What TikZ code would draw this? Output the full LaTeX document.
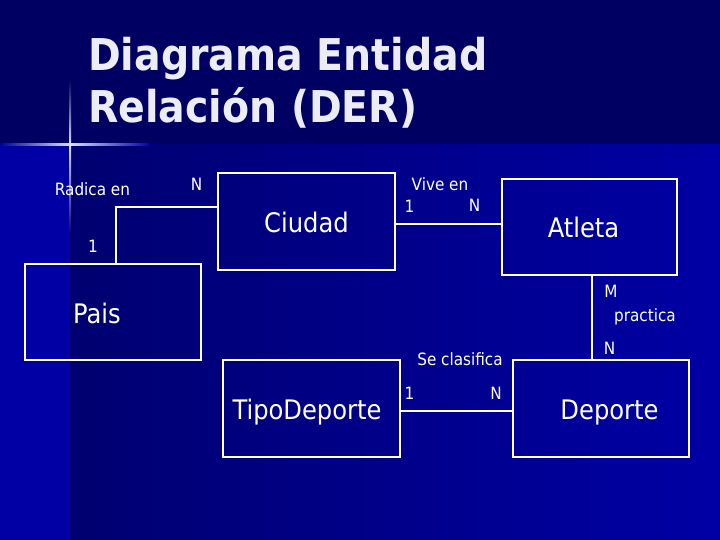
\documentclass[tikz,border=0pt]{standalone}
\usepackage{fontspec}
\setmainfont{DejaVu Sans Condensed}
\usetikzlibrary{positioning}

\definecolor{navy}{HTML}{000062}
\definecolor{deepblue}{HTML}{0000A4}
\definecolor{midblue}{HTML}{000070}
\definecolor{glow}{HTML}{D8E0FF}
\definecolor{titlegrey}{HTML}{ECECF4}

\begin{document}
\begin{tikzpicture}[
  x=1bp, y=-1bp,
  font=\fontsize{17}{20}\selectfont,
  entity/.style={draw=white, line width=1.3bp, minimum width=176bp, minimum height=96bp, inner sep=0pt},
  entname/.style={font=\fontsize{27}{31}\selectfont, text=white, text height=22bp, text depth=0bp, inner sep=0pt},
  card/.style={anchor=base, inner sep=0pt, text=white},
  rel/.style={draw=white, line width=1.1bp},
  heading/.style={anchor=base west, inner sep=0pt, text=titlegrey, font=\bfseries\fontsize{44}{52}\selectfont}
]
\useasboundingbox (0,0) rectangle (720,540);

% background
\fill[deepblue] (0,0) rectangle (720,540);
\fill[navy] (0,0) rectangle (720,145);
\shade[left color=midblue, right color=deepblue] (70,145) rectangle (720,540);
\shade[left color=deepblue!70!navy, right color=glow] (0,144) rectangle (70,146);
\shade[left color=glow, right color=deepblue] (70,144) rectangle (150,146);
\shade[top color=navy, bottom color=glow] (69,80) rectangle (71,145);
\shade[top color=glow, bottom color=midblue] (69,145) rectangle (71,235);

% title
\node[heading] (titulo1) at (88,71) {Diagrama Entidad};
\node[heading] (titulo2) at (88,123) {Relación (DER)};

% entities
\node[entity, minimum width=177bp, minimum height=97bp, label={[entname]center:Ciudad}] (ciudad) at (306.5,221.5) {};
\node[entity, label={[entname, xshift=-16bp]center:Pais}] (pais) at (113,312) {};
\node[entity, minimum width=175bp, label={[entname, xshift=-6bp]center:Atleta}] (atleta) at (589.5,227) {};
\node[entity, minimum width=177bp, minimum height=97bp, label={[entname, xshift=-4.5bp]center:TipoDeporte}] (tipo) at (311.5,408.5) {};
\node[entity, minimum height=97bp, label={[entname, xshift=8.5bp]center:Deporte}] (deporte) at (601,408.5) {};

% relations
\draw[rel] ([xshift=3bp]pais.north) |- ([yshift=14.5bp]ciudad.west);
\draw[rel] ([yshift=-2.5bp]ciudad.east) -- ([yshift=-2.5bp]ciudad.east -| atleta.west);
\draw[rel] ([xshift=2.5bp]atleta.south) -- ([xshift=2.5bp]atleta.south |- deporte.north);
\draw[rel] ([yshift=-2.5bp]tipo.east) -- ([yshift=-2.5bp]deporte.west);

% relation names and cardinalities
\node[card] (radica) at (92.5,196) {Radica en};
\node[card] (nRadica) at (196.5,191) {N};
\node[card] (unoRadica) at (93,252.5) {1};
\node[card] (vive) at (440,191) {Vive en};
\node[card] (unoVive) at (409.5,212.5) {1};
\node[card] (nVive) at (474.5,211.5) {N};
\node[card] (mPractica) at (611,297.5) {M};
\node[card] (practica) at (645,321) {practica};
\node[card] (nPractica) at (609.5,354) {N};
\node[card] (clasifica) at (460,365.5) {Se clasifica};
\node[card] (unoClasifica) at (409.5,399) {1};
\node[card] (nClasifica) at (496,399) {N};

\end{tikzpicture}
\end{document}
